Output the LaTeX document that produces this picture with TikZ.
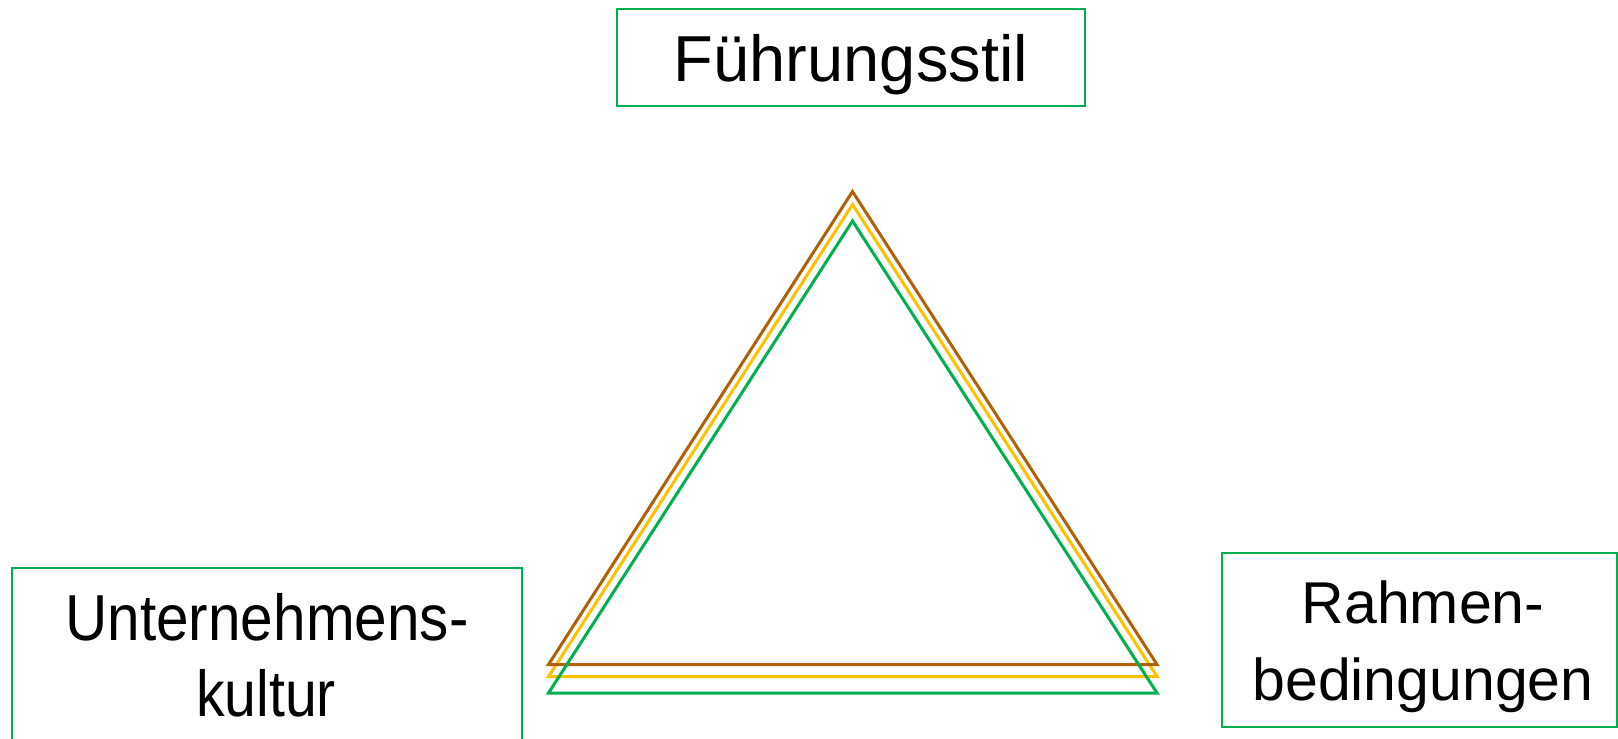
\documentclass[tikz,border=0pt]{standalone}
\usepackage{graphicx}
\usepackage{fontspec}
\setmainfont{Liberation Sans}
\definecolor{boxgreen}{RGB}{0,176,80}
\definecolor{triorange}{RGB}{255,192,0}
\definecolor{tribrown}{RGB}{178,96,8}
\begin{document}
\begin{tikzpicture}[x=1pt,y=-1pt,
  labelbox/.style={draw=boxgreen,line width=1.5pt,inner sep=0pt,anchor=north west},
  labeltext/.style={font=\fontsize{65}{78}\selectfont,anchor=base,inner sep=0pt},
  smalltext/.style={font=\fontsize{59}{70}\selectfont,anchor=base,inner sep=0pt},
  tri/.style={line width=3pt,line join=miter}]
\useasboundingbox (0,0) rectangle (1618,739);
% boxes
\node[labelbox,minimum width=468pt,minimum height=97pt] (fbox) at (616,8) {};
\node[labelbox,minimum width=510pt,minimum height=200pt] (ubox) at (11,567) {};
\node[labelbox,minimum width=395pt,minimum height=174pt] (rbox) at (1221,552) {};
% texts
\node[labeltext] (ftext) at (851,81) {Führungsstil};
\node[labeltext] (utext1) at (267,640) {\scalebox{0.9}[1]{Unternehmens-}};
\node[labeltext] (utext2) at (266,716.5) {\scalebox{0.88}[1]{kultur}};
\node[smalltext] (rtext1) at (1423,623.5) {Rahmen-};
\node[smalltext] (rtext2) at (1423,700) {bedingungen};
% triangle corners
\coordinate (bA) at (852.5,191.5);
\coordinate (bL) at (548.5,664.5);
\coordinate (bR) at (1157,664.5);
\coordinate (oA) at (852.5,204.5);
\coordinate (oL) at (548.5,676.5);
\coordinate (oR) at (1157,676.5);
\coordinate (gA) at (852.5,221);
\coordinate (gL) at (548.5,693);
\coordinate (gR) at (1157,693);
\draw[tri,draw=triorange] (oA) -- (oL) -- (oR) -- cycle;
\draw[tri,draw=tribrown] (bA) -- (bL) -- (bR) -- cycle;
\draw[tri,draw=boxgreen] (gA) -- (gL) -- (gR) -- cycle;
\end{tikzpicture}
\end{document}
